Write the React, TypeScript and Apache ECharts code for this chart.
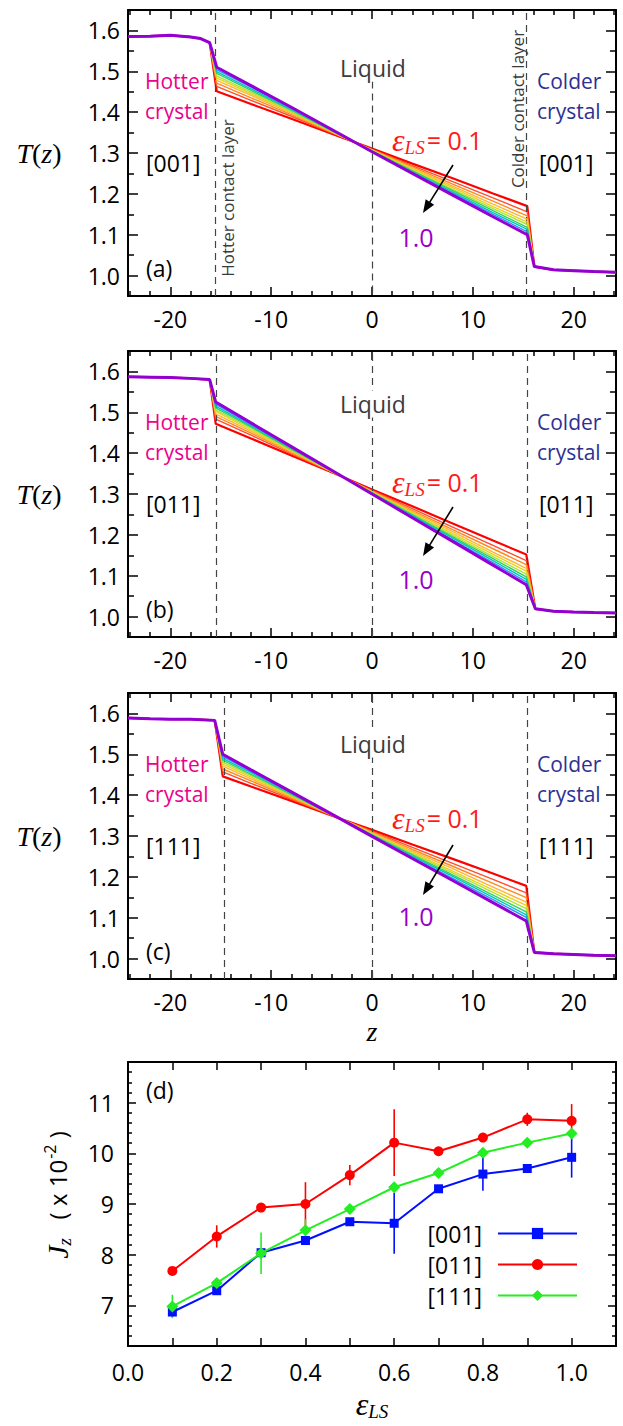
import React, { useEffect, useRef } from 'react';
import * as echarts from 'echarts';

const SANS = '"Open Sans", "Noto Sans", "DejaVu Sans", sans-serif';
const SERIF = '"Liberation Serif", "DejaVu Serif", serif';

// ---------- Temperature profiles T(z) ----------
const EPS_LS = ['0.1', '0.2', '0.3', '0.4', '0.5', '0.6', '0.7', '0.8', '0.9', '1.0'];
const PROFILE_COLORS = ['#ff0000', '#ff4f2e', '#ff8a1f', '#ffb43c', '#e8d21f', '#ade23a', '#36d05a', '#00c6c0', '#2f8cff', '#9400d3'];
const PROFILE_WIDTHS = [2.2, 1.4, 1.4, 1.4, 1.4, 1.4, 1.4, 1.4, 1.4, 3];

// panel (a) [001]
const HOT_Z_A = [-24.2, -22, -20, -18, -17, -16.1];
const HOT_T_A = [1.585, 1.586, 1.588, 1.584, 1.58, 1.57];
const LIQ_Z_A = [-15.4, -12, -8, -3, 0, 4, 8, 12, 15.4];
const LIQ_T_A = [
  [1.451, 1.42, 1.384, 1.338, 1.311, 1.274, 1.238, 1.201, 1.17],
  [1.463, 1.429, 1.39, 1.339, 1.309, 1.269, 1.23, 1.19, 1.156],
  [1.471, 1.435, 1.394, 1.34, 1.308, 1.266, 1.224, 1.182, 1.146],
  [1.478, 1.441, 1.397, 1.341, 1.307, 1.263, 1.219, 1.175, 1.138],
  [1.484, 1.445, 1.4, 1.341, 1.307, 1.261, 1.215, 1.169, 1.131],
  [1.489, 1.449, 1.402, 1.342, 1.306, 1.258, 1.211, 1.164, 1.125],
  [1.495, 1.453, 1.405, 1.342, 1.305, 1.256, 1.208, 1.159, 1.118],
  [1.499, 1.457, 1.407, 1.343, 1.304, 1.254, 1.204, 1.154, 1.113],
  [1.504, 1.461, 1.409, 1.343, 1.304, 1.252, 1.201, 1.15, 1.107],
  [1.51, 1.465, 1.412, 1.344, 1.303, 1.25, 1.197, 1.144, 1.1],
];
const COLD_Z_A = [16.1, 18, 20, 22, 24.2];
const COLD_T_A = [1.022, 1.014, 1.012, 1.01, 1.008];
const DASH_Z_A = [-15.5, 0, 15.3];

// panel (b) [011]
const HOT_Z_B = [-24.2, -22, -20, -18, -16.1];
const HOT_T_B = [1.587, 1.586, 1.585, 1.583, 1.58];
const LIQ_Z_B = [-15.5, -12, -8, -4, 0, 4, 8, 12, 15.3];
const LIQ_T_B = [
  [1.472, 1.436, 1.394, 1.353, 1.311, 1.27, 1.228, 1.186, 1.152],
  [1.483, 1.444, 1.398, 1.354, 1.309, 1.264, 1.219, 1.174, 1.137],
  [1.49, 1.449, 1.401, 1.355, 1.307, 1.26, 1.213, 1.166, 1.127],
  [1.496, 1.453, 1.404, 1.355, 1.306, 1.257, 1.208, 1.158, 1.118],
  [1.502, 1.457, 1.406, 1.356, 1.305, 1.254, 1.203, 1.152, 1.111],
  [1.506, 1.461, 1.408, 1.356, 1.304, 1.252, 1.199, 1.147, 1.104],
  [1.511, 1.464, 1.41, 1.357, 1.303, 1.249, 1.195, 1.142, 1.097],
  [1.515, 1.467, 1.412, 1.357, 1.302, 1.247, 1.192, 1.137, 1.091],
  [1.52, 1.47, 1.414, 1.358, 1.301, 1.245, 1.188, 1.132, 1.085],
  [1.525, 1.474, 1.416, 1.358, 1.3, 1.242, 1.184, 1.126, 1.078],
];
const COLD_Z_B = [16.2, 18, 20, 22, 24.2];
const COLD_T_B = [1.019, 1.013, 1.011, 1.01, 1.009];
const DASH_Z_B = [-15.4, 0, 15.4];

// panel (c) [111]
const HOT_Z_C = [-24.2, -22, -20, -18, -15.6];
const HOT_T_C = [1.589, 1.587, 1.586, 1.586, 1.583];
const LIQ_Z_C = [-14.8, -12, -8, -3, 0, 4, 8, 12, 15.3];
const LIQ_T_C = [
  [1.446, 1.421, 1.386, 1.341, 1.315, 1.279, 1.244, 1.208, 1.178],
  [1.457, 1.429, 1.39, 1.341, 1.312, 1.272, 1.233, 1.194, 1.161],
  [1.464, 1.435, 1.393, 1.341, 1.31, 1.267, 1.226, 1.184, 1.149],
  [1.471, 1.44, 1.396, 1.341, 1.308, 1.263, 1.22, 1.175, 1.138],
  [1.476, 1.444, 1.398, 1.34, 1.306, 1.26, 1.214, 1.168, 1.13],
  [1.481, 1.448, 1.4, 1.34, 1.305, 1.257, 1.21, 1.162, 1.122],
  [1.486, 1.451, 1.402, 1.34, 1.303, 1.254, 1.205, 1.155, 1.114],
  [1.49, 1.455, 1.404, 1.34, 1.302, 1.251, 1.201, 1.15, 1.107],
  [1.495, 1.458, 1.406, 1.34, 1.301, 1.248, 1.196, 1.144, 1.101],
  [1.5, 1.462, 1.408, 1.34, 1.299, 1.245, 1.191, 1.137, 1.092],
];
const COLD_Z_C = [16.1, 18, 20, 22, 24.2];
const COLD_T_C = [1.015, 1.012, 1.01, 1.008, 1.007];
const DASH_Z_C = [-14.7, 0, 15.4];

const T_X_MIN = -24.2;
const T_X_MAX = 24.2;
const T_Y_MIN = 0.95;
const T_Y_MAX = 1.65;
const T_X_MAJOR = [-20, -10, 0, 10, 20];
const T_X_MINOR = [-24, -22, -18, -16, -14, -12, -8, -6, -4, -2, 2, 4, 6, 8, 12, 14, 16, 18, 22, 24];
const T_Y_MAJOR = [1.0, 1.1, 1.2, 1.3, 1.4, 1.5, 1.6];
const T_Y_MINOR = [1.05, 1.15, 1.25, 1.35, 1.45, 1.55];

const ORIENTS = ['[001]', '[011]', '[111]'];
const PANEL_TAGS = ['(a)', '(b)', '(c)'];

// ---------- Heat flux J_z (panel d) ----------
const EPS = [0.1, 0.2, 0.3, 0.4, 0.5, 0.6, 0.7, 0.8, 0.9, 1.0];
const J_NAMES = ['[001]', '[011]', '[111]'];
const J_001 = [6.87, 7.29, 8.04, 8.28, 8.65, 8.62, 9.3, 9.59, 9.7, 9.92];
const E_001 = [0.1, 0.06, 0.05, 0.05, 0.06, 0.6, 0.07, 0.33, 0.05, 0.4];
const J_011 = [7.68, 8.36, 8.93, 9.0, 9.57, 10.21, 10.04, 10.31, 10.67, 10.64];
const E_011 = [0.08, 0.22, 0.05, 0.43, 0.2, 0.66, 0.08, 0.05, 0.13, 0.33];
const J_111 = [6.98, 7.44, 8.03, 8.48, 8.9, 9.33, 9.61, 10.01, 10.21, 10.39];
const E_111 = [0.23, 0.1, 0.41, 0.22, 0.08, 0.05, 0.08, 0.06, 0.07, 0.08];
const J_COLORS = ['#0010ff', '#ff0000', '#22ee22'];
const J_SYMBOLS = ['rect', 'circle', 'diamond'];
const J_SYMBOL_SIZES = [9, 10, 12];

const J_X_MIN = 0;
const J_X_MAX = 1.1;
const J_Y_MIN = 6.2;
const J_Y_MAX = 11.8;
const J_X_LABELS = [0, 0.2, 0.4, 0.6, 0.8, 1.0];
const J_X_TICKS = [0.1, 0.2, 0.3, 0.4, 0.5, 0.6, 0.7, 0.8, 0.9, 1.0];
const J_Y_MAJOR = [7, 8, 9, 10, 11];
const J_Y_MINOR = [6.4, 6.6, 6.8, 7.2, 7.4, 7.6, 7.8, 8.2, 8.4, 8.6, 8.8, 9.2, 9.4, 9.6, 9.8, 10.2, 10.4, 10.6, 10.8, 11.2, 11.4, 11.6];

// ---------- layout ----------
const GRID_TOPS = [10, 351, 693];
const GRID_H = 286;
const D_TOP = 1062;
const D_H = 284;
const GRID_LEFT = 128;
const GRID_RIGHT = 7;

function makeAxis(o: any) {
  const ax: any = {
    type: 'value',
    gridIndex: o.grid,
    min: o.min,
    max: o.max,
    position: o.position,
    axisLine: { show: !!o.line, onZero: false, lineStyle: { color: '#000', width: 2 } },
    axisTick: { show: true, inside: true, length: o.tickLen, customValues: o.ticks, lineStyle: { color: '#000', width: 1.5 } },
    splitLine: { show: false },
    minorTick: { show: false },
    axisLabel: { show: false },
  };
  if (o.labels) {
    ax.axisLabel = {
      show: true,
      customValues: o.labels,
      formatter: o.fmt,
      margin: o.margin,
      color: '#000',
      fontSize: 23,
      fontFamily: SANS,
    };
  }
  return ax;
}

function buildOption() {
  const grids: any[] = [];
  const xAxes: any[] = [];
  const yAxes: any[] = [];
  const series: any[] = [];
  const graphics: any[] = [];

  const panels = [
    { hz: HOT_Z_A, ht: HOT_T_A, lz: LIQ_Z_A, lt: LIQ_T_A, cz: COLD_Z_A, ct: COLD_T_A, dash: DASH_Z_A },
    { hz: HOT_Z_B, ht: HOT_T_B, lz: LIQ_Z_B, lt: LIQ_T_B, cz: COLD_Z_B, ct: COLD_T_B, dash: DASH_Z_B },
    { hz: HOT_Z_C, ht: HOT_T_C, lz: LIQ_Z_C, lt: LIQ_T_C, cz: COLD_Z_C, ct: COLD_T_C, dash: DASH_Z_C },
  ];

  const fmtX = (v: number) => String(Math.round(v));
  const fmtY = (v: number) => v.toFixed(1);

  panels.forEach((pn, p) => {
    grids.push({ left: GRID_LEFT, right: GRID_RIGHT, top: GRID_TOPS[p], height: GRID_H, outerBoundsMode: 'none' });
    const xi = xAxes.length;
    const yi = yAxes.length;
    xAxes.push(makeAxis({ grid: p, min: T_X_MIN, max: T_X_MAX, position: 'bottom', line: true, ticks: T_X_MAJOR, tickLen: 9, labels: T_X_MAJOR, fmt: fmtX, margin: 11 }));
    xAxes.push(makeAxis({ grid: p, min: T_X_MIN, max: T_X_MAX, position: 'bottom', ticks: T_X_MINOR, tickLen: 5 }));
    xAxes.push(makeAxis({ grid: p, min: T_X_MIN, max: T_X_MAX, position: 'top', line: true, ticks: T_X_MAJOR, tickLen: 9 }));
    xAxes.push(makeAxis({ grid: p, min: T_X_MIN, max: T_X_MAX, position: 'top', ticks: T_X_MINOR, tickLen: 5 }));
    yAxes.push(makeAxis({ grid: p, min: T_Y_MIN, max: T_Y_MAX, position: 'left', line: true, ticks: T_Y_MAJOR, tickLen: 10, labels: T_Y_MAJOR, fmt: fmtY, margin: 8 }));
    yAxes.push(makeAxis({ grid: p, min: T_Y_MIN, max: T_Y_MAX, position: 'left', ticks: T_Y_MINOR, tickLen: 6 }));
    yAxes.push(makeAxis({ grid: p, min: T_Y_MIN, max: T_Y_MAX, position: 'right', line: true, ticks: T_Y_MAJOR, tickLen: 10 }));
    yAxes.push(makeAxis({ grid: p, min: T_Y_MIN, max: T_Y_MAX, position: 'right', ticks: T_Y_MINOR, tickLen: 6 }));

    // dashed guide lines
    const dashData: any[] = pn.dash.map((z) => {
      if (p === 0 && z === 0) {
        return [{ coord: [z, 1.475] }, { coord: [z, T_Y_MIN] }];
      }
      return { xAxis: z };
    });
    series.push({
      type: 'line',
      name: 'guides' + p,
      xAxisIndex: xi,
      yAxisIndex: yi,
      data: [],
      silent: true,
      z: 1,
      markLine: {
        silent: true,
        symbol: ['none', 'none'],
        label: { show: false },
        lineStyle: { color: '#444', width: 1.2, type: [7, 5] },
        data: dashData,
      },
    });

    EPS_LS.forEach((e, k) => {
      const data: number[][] = [];
      pn.hz.forEach((z, i) => data.push([z, pn.ht[i]]));
      pn.lz.forEach((z, i) => data.push([z, pn.lt[k][i]]));
      pn.cz.forEach((z, i) => data.push([z, pn.ct[i]]));
      series.push({
        type: 'line',
        name: 'eps ' + e + ' ' + ORIENTS[p],
        xAxisIndex: xi,
        yAxisIndex: yi,
        data,
        symbol: 'none',
        showSymbol: false,
        silent: true,
        z: 2 + k,
        lineStyle: { color: PROFILE_COLORS[k], width: PROFILE_WIDTHS[k] },
      });
    });

    // annotations
    const off = GRID_TOPS[p] - GRID_TOPS[0];
    const liquidY = [68, 404, 744][p];
    const epsY = [140, 482, 818][p];
    const oneY = [237, 579, 916][p];
    const arrowY1 = [165, 507, 845][p];
    const arrowY2 = [213, 556, 895][p];
    graphics.push(
      {
        type: 'text', x: 145, y: 96 + off, z: 100,
        style: { text: 'Hotter\ncrystal', fill: '#ec008c', fontSize: 21, fontFamily: SANS, lineHeight: 30, align: 'left', verticalAlign: 'middle' },
      },
      {
        type: 'text', x: 537, y: 96 + off, z: 100,
        style: { text: 'Colder\ncrystal', fill: '#2e3192', fontSize: 21, fontFamily: SANS, lineHeight: 30, align: 'left', verticalAlign: 'middle' },
      },
      {
        type: 'text', x: 146, y: 163 + off, z: 100,
        style: { text: ORIENTS[p], fill: '#000', fontSize: 23, fontFamily: SANS, align: 'left', verticalAlign: 'middle' },
      },
      {
        type: 'text', x: 539, y: 163 + off, z: 100,
        style: { text: ORIENTS[p], fill: '#000', fontSize: 23, fontFamily: SANS, align: 'left', verticalAlign: 'middle' },
      },
      {
        type: 'text', x: 146, y: 268 + off, z: 100,
        style: { text: PANEL_TAGS[p], fill: '#000', fontSize: 23, fontFamily: SANS, align: 'left', verticalAlign: 'middle' },
      },
      {
        type: 'text', x: 373, y: liquidY, z: 100,
        style: { text: 'Liquid', fill: '#3c3c3c', fontSize: 23, fontFamily: SANS, align: 'center', verticalAlign: 'middle', backgroundColor: '#fff', padding: [2, 3, 2, 3] },
      },
      {
        type: 'text', x: 392, y: epsY, z: 100,
        style: {
          text: '{e|ε}{s|LS}{n|= 0.1}',
          align: 'left',
          verticalAlign: 'middle',
          rich: {
            e: { fill: '#ff1a1a', fontSize: 32, fontFamily: SERIF, fontStyle: 'italic', height: 34, verticalAlign: 'middle' },
            s: { fill: '#ff1a1a', fontSize: 19, fontFamily: SERIF, fontStyle: 'italic', padding: [14, 2, 0, 0] },
            n: { fill: '#ff1a1a', fontSize: 25, fontFamily: SANS },
          },
        },
      },
      {
        type: 'text', x: 416, y: oneY, z: 100,
        style: { text: '1.0', fill: '#9900cc', fontSize: 25, fontFamily: SANS, align: 'center', verticalAlign: 'middle' },
      },
      {
        type: 'text', x: 39, y: 153 + off, z: 100,
        style: {
          text: '{i|T}{u|(}{i|z}{u|)}',
          align: 'center',
          verticalAlign: 'middle',
          rich: {
            i: { fill: '#000', fontSize: 28, fontFamily: SERIF, fontStyle: 'italic' },
            u: { fill: '#000', fontSize: 28, fontFamily: SERIF },
          },
        },
      }
    );
    // arrow
    const x1 = 453, y1 = arrowY1, x2 = 423, y2 = arrowY2;
    const dx = x2 - x1, dy = y2 - y1;
    const len = Math.sqrt(dx * dx + dy * dy);
    const ux = dx / len, uy = dy / len;
    const hl = 13, hw = 5;
    const bx = x2 - ux * hl, by = y2 - uy * hl;
    graphics.push(
      { type: 'line', z: 100, shape: { x1, y1, x2: bx + ux * 2, y2: by + uy * 2 }, style: { stroke: '#000', lineWidth: 1.6 } },
      {
        type: 'polygon', z: 100,
        shape: { points: [[x2, y2], [bx - uy * hw, by + ux * hw], [bx + uy * hw, by - ux * hw]] },
        style: { fill: '#000' },
      }
    );
  });

  // contact-layer vertical labels (panel a)
  graphics.push(
    {
      type: 'text', x: 227, y: 198, rotation: Math.PI / 2, z: 100,
      style: { text: 'Hotter contact layer', fill: '#3a3a3a', fontSize: 17, fontFamily: SANS, align: 'center', verticalAlign: 'middle' },
    },
    {
      type: 'text', x: 517, y: 109, rotation: Math.PI / 2, z: 100,
      style: { text: 'Colder contact layer', fill: '#3a3a3a', fontSize: 17, fontFamily: SANS, align: 'center', verticalAlign: 'middle' },
    },
    {
      type: 'text', x: 372, y: 1031, z: 100,
      style: { text: 'z', fill: '#000', fontSize: 28, fontFamily: SERIF, fontStyle: 'italic', align: 'center', verticalAlign: 'middle', lineHeight: 20 },
    }
  );

  // ---------- panel (d) ----------
  const gd = grids.length;
  grids.push({ left: GRID_LEFT, right: GRID_RIGHT, top: D_TOP, height: D_H, outerBoundsMode: 'none' });
  const dxi = xAxes.length;
  const dyi = yAxes.length;
  xAxes.push(makeAxis({ grid: gd, min: J_X_MIN, max: J_X_MAX, position: 'bottom', line: true, ticks: J_X_TICKS, tickLen: 8, labels: J_X_LABELS, fmt: (v: number) => v.toFixed(1), margin: 14 }));
  xAxes.push(makeAxis({ grid: gd, min: J_X_MIN, max: J_X_MAX, position: 'top', line: true, ticks: J_X_TICKS, tickLen: 8 }));
  yAxes.push(makeAxis({ grid: gd, min: J_Y_MIN, max: J_Y_MAX, position: 'left', line: true, ticks: J_Y_MAJOR, tickLen: 8, labels: J_Y_MAJOR, fmt: (v: number) => String(Math.round(v)), margin: 14 }));
  yAxes.push(makeAxis({ grid: gd, min: J_Y_MIN, max: J_Y_MAX, position: 'left', ticks: J_Y_MINOR, tickLen: 4 }));
  yAxes.push(makeAxis({ grid: gd, min: J_Y_MIN, max: J_Y_MAX, position: 'right', line: true, ticks: J_Y_MAJOR, tickLen: 8 }));
  yAxes.push(makeAxis({ grid: gd, min: J_Y_MIN, max: J_Y_MAX, position: 'right', ticks: J_Y_MINOR, tickLen: 4 }));

  const jVals = [J_001, J_011, J_111];
  const jErr = [E_001, E_011, E_111];
  J_NAMES.forEach((name, s) => {
    const color = J_COLORS[s];
    series.push({
      type: 'custom',
      name: name + ' error',
      xAxisIndex: dxi,
      yAxisIndex: dyi,
      silent: true,
      z: 3,
      data: EPS.map((x, i) => [x, jVals[s][i] - jErr[s][i], jVals[s][i] + jErr[s][i]]),
      renderItem: (params: any, api: any) => {
        const lo = api.coord([api.value(0), api.value(1)]);
        const hi = api.coord([api.value(0), api.value(2)]);
        return {
          type: 'line',
          shape: { x1: lo[0], y1: lo[1], x2: hi[0], y2: hi[1] },
          style: { stroke: color, lineWidth: 1.6 },
        };
      },
    });
  });
  J_NAMES.forEach((name, s) => {
    series.push({
      type: 'line',
      name,
      xAxisIndex: dxi,
      yAxisIndex: dyi,
      data: EPS.map((x, i) => [x, jVals[s][i]]),
      symbol: J_SYMBOLS[s],
      symbolSize: J_SYMBOL_SIZES[s],
      showSymbol: true,
      z: 4 + s,
      lineStyle: { color: J_COLORS[s], width: 2 },
      itemStyle: { color: J_COLORS[s] },
    });
  });

  graphics.push(
    {
      type: 'text', x: 146, y: 1090, z: 100,
      style: { text: '(d)', fill: '#000', fontSize: 23, fontFamily: SANS, align: 'left', verticalAlign: 'middle' },
    },
    {
      type: 'text', x: 372, y: 1404, z: 100,
      style: {
        text: '{e|ε}{s|LS}',
        align: 'center',
        verticalAlign: 'middle',
        rich: {
          e: { fill: '#000', fontSize: 32, fontFamily: SERIF, fontStyle: 'italic' },
          s: { fill: '#000', fontSize: 19, fontFamily: SERIF, fontStyle: 'italic', padding: [14, 0, 0, 0] },
        },
      },
    },
    {
      type: 'text', x: 57, y: 1195, rotation: Math.PI / 2, z: 100,
      style: {
        text: '{j|J}{z|z}{p|   ( x 10}{sup|-2}{p| )}',
        align: 'center',
        verticalAlign: 'middle',
        rich: {
          j: { fill: '#000', fontSize: 30, fontFamily: SERIF, fontStyle: 'italic' },
          z: { fill: '#000', fontSize: 19, fontFamily: SERIF, fontStyle: 'italic', padding: [14, 0, 0, 0] },
          p: { fill: '#000', fontSize: 24, fontFamily: SANS },
          sup: { fill: '#000', fontSize: 16, fontFamily: SANS, padding: [0, 0, 14, 1] },
        },
      },
    }
  );

  return {
    animation: false,
    backgroundColor: '#fff',
    grid: grids,
    xAxis: xAxes,
    yAxis: yAxes,
    legend: {
      data: J_NAMES,
      orient: 'vertical',
      right: 45,
      top: 1222,
      align: 'right',
      padding: 0,
      itemWidth: 79,
      itemHeight: 14,
      itemGap: 8,
      selectedMode: false,
      textStyle: { fontSize: 23, fontFamily: SANS, color: '#000', padding: [0, 11, 0, 0] },
    },
    series,
    graphic: graphics,
  };
}

export default function App() {
  const ref = useRef<HTMLDivElement>(null);
  useEffect(() => {
    document.body.style.margin = '0';
    const chart = echarts.init(ref.current as HTMLDivElement, null, { renderer: 'svg' });
    chart.setOption(buildOption() as any);
    return () => {
      chart.dispose();
    };
  }, []);
  return <div ref={ref} style={{ position: 'absolute', left: 0, top: 0, width: 623, height: 1426, background: '#fff' }} />;
}
